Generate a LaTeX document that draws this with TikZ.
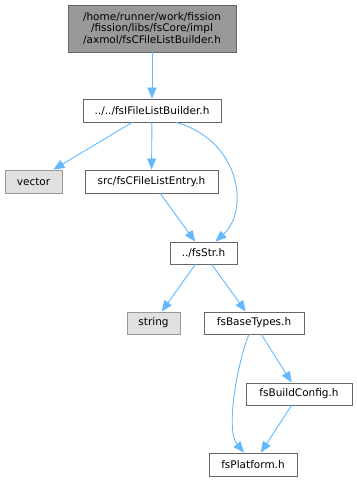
\documentclass[tikz,border=0pt]{standalone}
\usepackage{fontspec}
\setmainfont{DejaVu Sans}
\usetikzlibrary{arrows.meta}
\definecolor{edgeblue}{HTML}{63B8FF}
\definecolor{darkborder}{HTML}{666666}
\definecolor{topfill}{HTML}{999999}
\definecolor{sysfill}{HTML}{E0E0E0}
\definecolor{sysborder}{HTML}{999999}
\tikzset{
  filebox/.style={draw=darkborder, fill=white, line width=0.9pt, inner sep=0pt, align=center,
    font=\fontsize{10.5}{11.6}\selectfont},
  topbox/.style={filebox, fill=topfill},
  sysbox/.style={filebox, draw=sysborder, fill=sysfill},
  dep/.style={draw=edgeblue, line width=0.9pt, -{Triangle[length=11pt,width=9pt]}}
}
\begin{document}
\begin{tikzpicture}[x=1pt,y=-1pt]
\useasboundingbox (0,0) rectangle (356,481);
\node[topbox, minimum width=168pt, minimum height=47pt] (top) at (152,28.5)
  {/home/runner/work/fission\\/fission/libs/fsCore/impl\\/axmol/fsCFileListBuilder.h};
\node[filebox, minimum width=138pt, minimum height=23pt] (ifb) at (152,110.5) {../../fsIFileListBuilder.h};
\node[sysbox, minimum width=57pt, minimum height=23pt] (vector) at (33.5,181.5) {vector};
\node[filebox, minimum width=133pt, minimum height=23pt] (src) at (151.5,181.5) {src/fsCFileListEntry.h};
\node[filebox, minimum width=67pt, minimum height=22pt] (str) at (203.5,253) {../fsStr.h};
\node[sysbox, minimum width=53pt, minimum height=22pt] (string) at (153.5,323) {string};
\node[filebox, minimum width=100pt, minimum height=22pt] (base) at (254,323) {fsBaseTypes.h};
\node[filebox, minimum width=106pt, minimum height=22pt] (build) at (299,394) {fsBuildConfig.h};
\node[filebox, minimum width=88pt, minimum height=23pt] (plat) at (253,464.5) {fsPlatform.h};

\draw[dep] (top) -- (ifb);
\draw[dep] (ifb) -- (vector);
\draw[dep] (ifb) -- (src);
\draw[dep] ([xshift=24pt]ifb.south) .. controls (240,140) and (250,210) .. ([xshift=12pt]str.north);
\draw[dep] (src) -- (str);
\draw[dep] (str) -- (string);
\draw[dep] (str) -- (base);
\draw[dep] ([xshift=-5pt]base.south) .. controls (238,360) and (225,430) .. ([xshift=-9pt]plat.north);
\draw[dep] (base) -- (build);
\draw[dep] (build) -- (plat);
\end{tikzpicture}
\end{document}
